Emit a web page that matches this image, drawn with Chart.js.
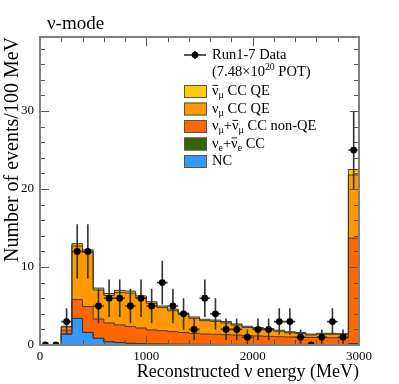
<!DOCTYPE html>
<html>
<head>
<meta charset="utf-8">
<script src="https://cdn.jsdelivr.net/npm/chart.js@4.4.1/dist/chart.umd.min.js"></script>
<style>
  html, body { margin: 0; padding: 0; background: #fff; }
  #wrap { width: 399px; height: 384px; position: relative; }
</style>
</head>
<body>
<div id="wrap"><canvas id="c"></canvas></div>
<script>
// Bin low edges (MeV), 100 MeV bins, last bin collects everything above 2900
const binEdges = [0, 100, 200, 300, 400, 500, 600, 700, 800, 900,
  1000, 1100, 1200, 1300, 1400, 1500, 1600, 1700, 1800, 1900,
  2000, 2100, 2200, 2300, 2400, 2500, 2600, 2700, 2800, 2900];
const binCenters = [50, 150, 250, 350, 450, 550, 650, 750, 850, 950,
  1050, 1150, 1250, 1350, 1450, 1550, 1650, 1750, 1850, 1950,
  2050, 2150, 2250, 2350, 2450, 2550, 2650, 2750, 2850, 2950];

// MC components, stacked bottom to top
const ncEvents = [0, 0, 1.4, 3.4, 1.6, 0.85, 0.4, 0.3, 0.2, 0.15, 0.1, 0.1, 0.08, 0.07, 0.06,
  0.05, 0.05, 0.04, 0.04, 0.03, 0.03, 0.03, 0.03, 0.02, 0.02, 0.02, 0.02, 0.02, 0.02, 0.1];
const nueCCEvents = [0, 0, 0, 0.02, 0.03, 0.03, 0.03, 0.03, 0.03, 0.03, 0.03, 0.03, 0.03, 0.03, 0.03,
  0.03, 0.03, 0.03, 0.03, 0.03, 0.03, 0.03, 0.03, 0.03, 0.03, 0.03, 0.03, 0.03, 0.03, 0.1];
const numuNonQEEvents = [0, 0, 0.5, 2.4, 3.3, 2.45, 2.4, 2.25, 2.15, 2.0, 1.8, 1.7, 1.6, 1.5, 1.4,
  1.33, 1.3, 1.25, 1.2, 1.15, 1.1, 1.05, 1.0, 0.98, 0.95, 0.92, 0.9, 0.88, 0.86, 13.5];
const numuQEEvents = [0, 0, 0.4, 6.88, 6.97, 3.72, 3.52, 4.17, 4.27, 3.87, 3.4, 2.97, 2.69, 2.3, 1.93,
  1.71, 1.65, 1.51, 1.28, 1.04, 0.94, 0.85, 0.7, 0.54, 0.47, 0.31, 0.43, 0.45, 0.42, 8.1];
const numubarQEEvents = [0, 0, 0.1, 0.3, 0.3, 0.25, 0.25, 0.25, 0.25, 0.25, 0.22, 0.2, 0.2, 0.2, 0.18,
  0.18, 0.17, 0.17, 0.15, 0.15, 0.15, 0.14, 0.14, 0.13, 0.13, 0.12, 0.12, 0.12, 0.12, 0.7];

// Run1-7 data and its errors
const dataEvents = [0, 0, 3, 12, 12, 5, 6, 6, 5, 6, 5, 8, 5, 4, 2,
  6, 4, 2, 2, 1, 2, 2, 3, 3, 1, 0, 1, 3, 1, 25];
const dataErrors = [0, 0, 1.7, 3.5, 3.5, 2.2, 2.4, 2.4, 2.2, 2.4, 2.2, 2.8, 2.2, 2.0, 1.4,
  2.4, 2.0, 1.4, 1.4, 1.0, 1.4, 1.4, 1.7, 1.7, 1.0, 0, 1.0, 1.7, 1.0, 5.0];

const xTickValues = [0, 1000, 2000, 3000];
const yTickValues = [0, 10, 20, 30];
const xMax = 3000;
const yMax = 39.5;
const binHalfWidth = 50;

const serif = "'Liberation Serif', 'Times New Roman', serif";

// legend text pieces: sub = subscript, sup = superscript, bar = overline
const dataLabel = [{ t: 'Run1-7 Data' }];
const potLabel = [{ t: '(7.48\u00d710' }, { t: '20', sup: true }, { t: ' POT)' }];
const mcSeries = [
  { label: [{ t: 'NC' }], values: ncEvents, color: '#3399ff' },
  { label: [{ t: '\u03bd' }, { t: 'e', sub: true }, { t: '+' }, { t: '\u03bd', bar: true }, { t: 'e', sub: true }, { t: ' CC' }],
    values: nueCCEvents, color: '#336600' },
  { label: [{ t: '\u03bd' }, { t: '\u03bc', sub: true }, { t: '+' }, { t: '\u03bd', bar: true }, { t: '\u03bc', sub: true }, { t: ' CC non-QE' }],
    values: numuNonQEEvents, color: '#ff6600' },
  { label: [{ t: '\u03bd' }, { t: '\u03bc', sub: true }, { t: ' CC QE' }], values: numuQEEvents, color: '#ff9900' },
  { label: [{ t: '\u03bd', bar: true }, { t: '\u03bc', sub: true }, { t: ' CC QE' }], values: numubarQEEvents, color: '#ffcc00' }
];

function stepData(vals) {
  const pts = binEdges.map((x, i) => ({ x: x, y: vals[i] }));
  pts.push({ x: xMax, y: vals[vals.length - 1] });
  return pts;
}

function drawRich(ctx, parts, x, y, size) {
  ctx.textBaseline = 'middle';
  ctx.textAlign = 'left';
  for (const p of parts) {
    const fs = (p.sub || p.sup) ? size * 0.68 : size;
    ctx.font = fs + 'px ' + serif;
    const dy = p.sub ? size * 0.3 : (p.sup ? -size * 0.38 : 0);
    ctx.fillText(p.t, x, y + dy);
    const w = ctx.measureText(p.t).width;
    if (p.bar) {
      ctx.beginPath();
      ctx.lineWidth = 0.9;
      ctx.moveTo(x + 0.5, y - size * 0.42);
      ctx.lineTo(x + w - 0.5, y - size * 0.42);
      ctx.stroke();
    }
    x += w;
  }
}

// vertical and horizontal error bars, drawn under the markers
const errorBars = {
  id: 'errorBars',
  beforeDatasetDraw(chart, args) {
    if (args.index !== mcSeries.length) return;
    const { ctx, scales: { x, y } } = chart;
    ctx.save();
    ctx.strokeStyle = '#333';
    ctx.lineWidth = 1.6;
    dataEvents.forEach((v, i) => {
      const px = x.getPixelForValue(binCenters[i]);
      const py = y.getPixelForValue(v);
      ctx.beginPath();
      if (dataErrors[i] > 0) {
        ctx.moveTo(px, y.getPixelForValue(Math.max(0, v - dataErrors[i])));
        ctx.lineTo(px, Math.max(chart.chartArea.top, y.getPixelForValue(v + dataErrors[i])));
      }
      ctx.moveTo(x.getPixelForValue(binCenters[i] - binHalfWidth), py);
      ctx.lineTo(x.getPixelForValue(binCenters[i] + binHalfWidth), py);
      ctx.stroke();
    });
    ctx.restore();
  }
};

// ROOT style frame with inward ticks, titles and legend
const frame = {
  id: 'frame',
  afterDraw(chart) {
    const { ctx, chartArea: a, scales: { x, y } } = chart;
    ctx.save();
    // ticks
    ctx.strokeStyle = '#555';
    ctx.lineWidth = 1;
    ctx.beginPath();
    for (let v = 0; v <= xMax; v += 200) {
      const px = Math.round(x.getPixelForValue(v)) + 0.5;
      const len = v % 1000 === 0 ? 9 : 5;
      ctx.moveTo(px, a.bottom); ctx.lineTo(px, a.bottom - len);
      ctx.moveTo(px, a.top); ctx.lineTo(px, a.top + len);
    }
    for (let v = 0; v <= yMax; v += 2) {
      const py = Math.round(y.getPixelForValue(v)) + 0.5;
      const len = v % 10 === 0 ? 9 : 5;
      ctx.moveTo(a.left, py); ctx.lineTo(a.left + len, py);
      ctx.moveTo(a.right, py); ctx.lineTo(a.right - len, py);
    }
    ctx.stroke();
    // frame
    ctx.strokeStyle = '#808080';
    ctx.lineWidth = 2;
    ctx.strokeRect(a.left, a.top, a.right - a.left, a.bottom - a.top);

    // titles
    ctx.fillStyle = '#000';
    ctx.font = '19px ' + serif;
    ctx.textAlign = 'left';
    ctx.textBaseline = 'alphabetic';
    ctx.fillText('\u03bd-mode', 47, 29);

    ctx.font = '18px ' + serif;
    ctx.textAlign = 'right';
    ctx.fillText('Reconstructed \u03bd energy (MeV)', a.right, 377);

    ctx.save();
    ctx.font = '20px ' + serif;
    ctx.translate(18, a.top);
    ctx.rotate(-Math.PI / 2);
    ctx.fillText('Number of events/100 MeV', 0, 0);
    ctx.restore();

    // legend
    const lx = 184, tx = 212;
    ctx.strokeStyle = '#222';
    ctx.fillStyle = '#000';
    ctx.lineWidth = 1.6;
    ctx.beginPath();
    ctx.moveTo(lx, 55); ctx.lineTo(lx + 22, 55);
    ctx.moveTo(lx + 11, 51); ctx.lineTo(lx + 11, 59);
    ctx.stroke();
    ctx.beginPath();
    ctx.arc(lx + 11, 55, 3.3, 0, Math.PI * 2);
    ctx.fill();
    ctx.strokeStyle = '#000';
    drawRich(ctx, dataLabel, tx, 55, 14.5);
    drawRich(ctx, potLabel, tx, 72.5, 14.5);
    const rows = mcSeries.slice().reverse();
    rows.forEach((s, i) => {
      const cy = 91.5 + i * 17.5;
      ctx.fillStyle = s.color;
      ctx.fillRect(lx, cy - 6.5, 23, 13);
      ctx.strokeStyle = '#555';
      ctx.lineWidth = 1;
      ctx.strokeRect(lx + 0.5, cy - 6, 22, 12);
      ctx.fillStyle = '#000';
      ctx.strokeStyle = '#000';
      drawRich(ctx, s.label, tx, cy, 14.5);
    });
    ctx.restore();
  }
};

const datasets = mcSeries.map((s, i) => ({
  type: 'line',
  data: stepData(s.values),
  stepped: 'before',
  fill: i === 0 ? 'origin' : '-1',
  backgroundColor: s.color,
  borderColor: '#3a3a3a',
  borderWidth: 1,
  pointRadius: 0,
  stack: 'mc',
  order: 1
}));
datasets.push({
  type: 'scatter',
  data: binCenters.map((x, i) => ({ x: x, y: dataEvents[i] })),
  pointRadius: 3.4,
  pointBackgroundColor: '#000',
  pointBorderColor: '#000',
  pointBorderWidth: 0,
  stack: 'data',
  order: 0
});

new Chart(document.getElementById('c'), {
  data: { datasets: datasets },
  options: {
    responsive: true,
    maintainAspectRatio: false,
    animation: false,
    layout: { padding: { top: 37, right: 40, left: 0, bottom: 0 } },
    plugins: {
      legend: { display: false },
      tooltip: { enabled: false },
      filler: { drawTime: 'beforeDatasetsDraw' }
    },
    scales: {
      x: {
        type: 'linear',
        min: 0,
        max: xMax,
        grid: { display: false, drawTicks: false },
        border: { display: false },
        ticks: { font: { family: serif, size: 13 }, color: '#000', padding: 4, maxRotation: 0, autoSkip: false,
          callback: v => String(v) },
        afterBuildTicks: s => { s.ticks = xTickValues.map(v => ({ value: v })); },
        afterFit: s => { s.height = 39; }
      },
      y: {
        type: 'linear',
        stacked: true,
        min: 0,
        max: yMax,
        grid: { display: false, drawTicks: false },
        border: { display: false },
        ticks: { font: { family: serif, size: 13 }, color: '#000', padding: 6,
          callback: v => String(v) },
        afterBuildTicks: s => { s.ticks = yTickValues.map(v => ({ value: v })); },
        afterFit: s => { s.height = s.height; s.width = 40; }
      }
    }
  },
  plugins: [errorBars, frame]
});
</script>
</body>
</html>
